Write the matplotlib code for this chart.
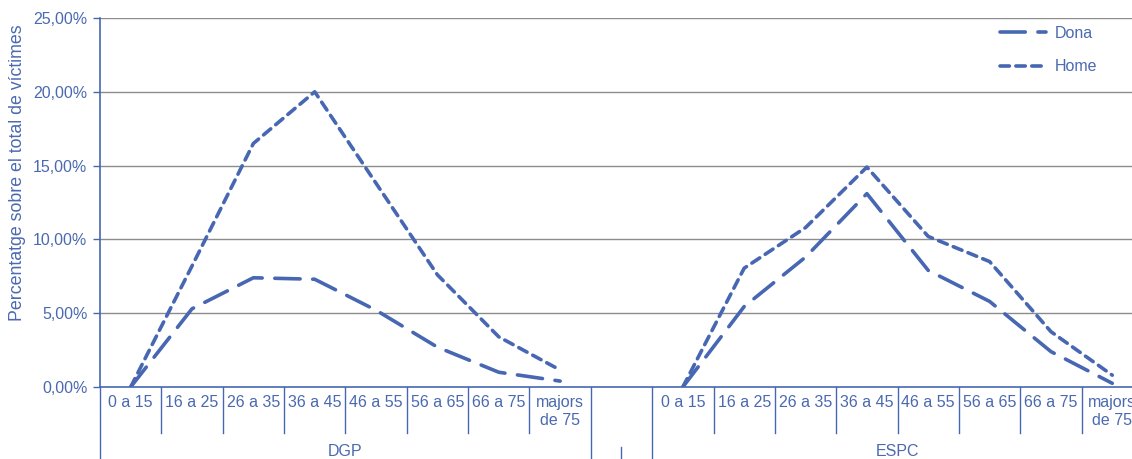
import numpy as np
import matplotlib
matplotlib.use('Agg')
import matplotlib.pyplot as plt
import matplotlib.transforms as mtransforms

plt.rcParams['font.family'] = ['Liberation Sans', 'DejaVu Sans']

# dades (percentatge sobre el total de víctimes)
edats = ['0 a 15', '16 a 25', '26 a 35', '36 a 45', '46 a 55',
         '56 a 65', '66 a 75', 'majors\nde 75']
grups = ['DGP', 'ESPC']
dona_dgp = [0.0, 5.3, 7.4, 7.3, 5.2, 2.7, 1.0, 0.4]
home_dgp = [0.0, 8.2, 16.5, 20.0, 13.8, 7.6, 3.4, 1.15]
dona_espc = [0.0, 5.45, 8.8, 13.1, 7.9, 5.8, 2.4, 0.25]
home_espc = [0.0, 8.05, 10.8, 14.9, 10.2, 8.5, 3.75, 0.8]

blau = '#4767B3'
text_blau = '#4A69B0'

# DGP (8) + buit (1) + ESPC (8)
dona = np.array(dona_dgp + [np.nan] + dona_espc) / 100
home = np.array(home_dgp + [np.nan] + home_espc) / 100
x = np.arange(len(dona))

W, H = 1132, 459
fig = plt.figure(figsize=(W / 100, H / 100), dpi=100)
left, right, top, bottom = 100, 1132, 18, 387
ax = fig.add_axes([left / W, 1 - bottom / H, (right - left) / W, (bottom - top) / H])

slot = 61.35
ax.set_xlim(-0.5, -0.5 + (right - left) / slot)
ax.set_ylim(0, 0.25)

ax.plot(x, dona, color=blau, lw=2.6, dashes=(7, 3.5), dash_capstyle='round',
        solid_capstyle='round', label='Dona')
ax.plot(x, home, color=blau, lw=2.6, dashes=(2.6, 1.8), dash_capstyle='round',
        solid_capstyle='round', label='Home')

# eix y
yt = np.arange(0, 0.2501, 0.05)
ax.set_yticks(yt)
ax.set_yticklabels([('%.2f' % (v * 100)).replace('.', ',') + '%' for v in yt])
ax.tick_params(axis='y', colors=blau, labelcolor=text_blau, labelsize=11.5,
               length=5, width=1, direction='out', pad=4)
ax.set_xticks([])
for v in yt[1:]:
    ax.axhline(v, color='#8C8C8C', lw=1.0, zorder=0)

for s in ['top', 'right']:
    ax.spines[s].set_visible(False)
ax.spines['left'].set_color(blau)
ax.spines['bottom'].set_color(blau)
ax.spines['left'].set_linewidth(1.2)
ax.spines['bottom'].set_linewidth(1.2)

ax.set_ylabel('Percentatge sobre el total de víctimes', color=text_blau,
              fontsize=12.8)
ah = bottom - top
ax.yaxis.set_label_coords(-(100 - 26) / (right - left), (bottom - 173) / ah)

# categories de l'eix x
trans = mtransforms.blended_transform_factory(ax.transData, ax.transAxes)
y_cat = -(433 - bottom) / ah
y_full = -(H - bottom) / ah
for b in np.arange(-0.5, 17.0, 1.0):
    if b in (-0.5, 7.5, 8.5):
        ax.plot([b, b], [0, y_full], color=blau, lw=1.0, transform=trans, clip_on=False)
    else:
        ax.plot([b, b], [0, y_cat], color=blau, lw=1.0, transform=trans, clip_on=False)

etiquetes = edats + [''] + edats
for i, e in enumerate(etiquetes):
    ax.text(i, -(395 - bottom) / ah, e, transform=trans, ha='center', va='top',
            color=text_blau, fontsize=11.5, linespacing=1.25)

y_grup = -(452 - bottom) / ah
ax.text(3.5, y_grup, grups[0], transform=trans, ha='center', va='center',
        color=text_blau, fontsize=11.5)
ax.text(12.5, y_grup, grups[1], transform=trans, ha='center', va='center',
        color=text_blau, fontsize=11.5)
ax.plot([8, 8], [-(447 - bottom) / ah, y_full], color=blau, lw=1.0,
        transform=trans, clip_on=False)

ax.legend(loc='upper left', bbox_to_anchor=(1000 / W, 1 - 26 / H),
          bbox_transform=fig.transFigure, frameon=False, fontsize=11.5,
          labelcolor=text_blau, handlelength=2.9, handletextpad=0.5,
          labelspacing=1.15, borderpad=0, borderaxespad=0)

fig.savefig('out.png', dpi=100)
